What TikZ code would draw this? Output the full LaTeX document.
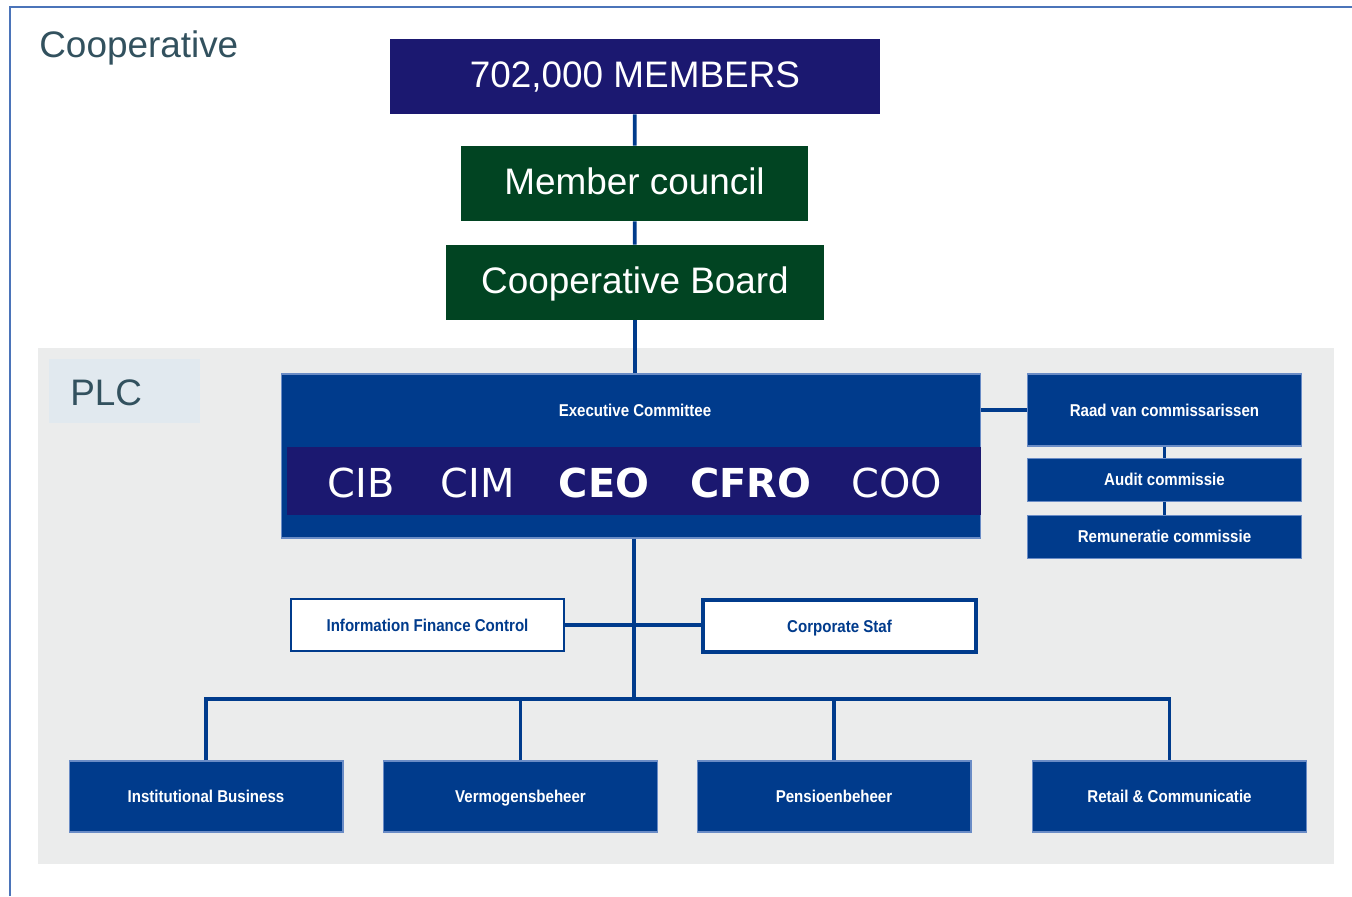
\documentclass[tikz,border=0pt]{standalone}
\usepackage{fontspec}
\setmainfont{Liberation Sans}
\newfontfamily\rolefont{DejaVu Sans}
\newfontfamily\dinfont[FakeStretch=0.88]{Liberation Sans}
\usetikzlibrary{positioning}

\definecolor{navy}{HTML}{1B1870}
\definecolor{forest}{HTML}{014422}
\definecolor{abpblue}{HTML}{003B8C}
\definecolor{edgeblue}{HTML}{6A8CC6}
\definecolor{framecol}{HTML}{4B74B9}
\definecolor{slate}{HTML}{32515E}
\definecolor{plcgray}{HTML}{EBECEC}
\definecolor{plctag}{HTML}{E1E9EF}

\begin{document}
\begin{tikzpicture}[x=0.02cm, y=-0.02cm,
    bigbox/.style={text=white, font=\fontsize{21}{25}\selectfont, inner sep=0pt, text height=15pt, text depth=2pt, minimum height=1.5cm},
    smalltext/.style={font=\dinfont\bfseries\fontsize{9.75}{12}\selectfont, inner sep=0pt, text height=7pt, text depth=0pt},
    unitbox/.style={smalltext, fill=abpblue, draw=edgeblue, line width=0.6pt, text=white, minimum width=5.48cm},
    staffbox/.style={smalltext, fill=white, draw=abpblue, text=abpblue, minimum width=5.46cm},
    role/.style={text=white, font=\rolefont\fontsize{22.7}{26}\selectfont, inner sep=0pt},
    link/.style={draw=abpblue, line width=2.1pt}]
  \useasboundingbox (0,0) rectangle (1352,896);

  % cooperative frame and PLC area
  \fill[plcgray] (38,348) rectangle (1334,864);
  \fill[plctag] (49,359) rectangle (200,423);
  \draw[framecol, line width=1.7pt] (10,896) -- (10,7) -- (1352,7);
  \node[anchor=base west, text=slate, font=\fontsize{21}{25}\selectfont, inner sep=0pt] (coop) at (39,57.5) {Cooperative};
  \node[anchor=base west, text=slate, font=\fontsize{21}{25}\selectfont, inner sep=0pt] (plc) at (70,405) {PLC};

  % member chain
  \node[bigbox, fill=navy, minimum width=9.8cm] (members) at (635,76.5) {702,000 MEMBERS};
  \node[bigbox, fill=forest, minimum width=6.94cm] (council) at (634.5,183.5) {Member council};
  \node[bigbox, fill=forest, minimum width=7.56cm] (board) at (635,282.5) {Cooperative Board};

  % executive committee
  \node[fill=abpblue, draw=edgeblue, line width=0.6pt, minimum width=14cm, minimum height=3.28cm] (exec) at (631,456) {};
  \node[smalltext, text=white] (title) at (635,410) {Executive Committee};
  \node[fill=navy, inner sep=0pt, minimum width=13.88cm, minimum height=1.36cm] (band) at (634,481) {};
  \node[role] (cib) at (361,483) {CIB};
  \node[role] (cim) at (478,483) {CIM};
  \node[role, font=\rolefont\bfseries\fontsize{22.7}{26}\selectfont] (ceo) at (604,483) {CEO};
  \node[role, font=\rolefont\bfseries\fontsize{22.7}{26}\selectfont] (cfro) at (751,483) {CFRO};
  \node[role] (coo) at (897,483) {COO};

  % supervisory boards
  \node[unitbox, minimum height=1.44cm] (raad) at (1164.5,410) {Raad van commissarissen};
  \node[unitbox, minimum height=0.86cm] (audit) [below=0.22cm of raad] {Audit commissie};
  \node[unitbox, minimum height=0.86cm] (remu) [below=0.26cm of audit] {Remuneratie commissie};

  % staff
  \node[staffbox, line width=0.9pt, minimum height=1.04cm] (ifc) at (427.5,625) {Information Finance Control};
  \node[staffbox, line width=2pt, minimum height=1.04cm] (staf) at (839.5,626) {Corporate Staf};

  % business units
  \node[unitbox, minimum height=1.42cm] (inst) at (206,796.5) {Institutional Business};
  \node[unitbox, minimum height=1.42cm] (verm) at (520.5,796.5) {Vermogensbeheer};
  \node[unitbox, minimum height=1.42cm] (pens) at (834,796.5) {Pensioenbeheer};
  \node[unitbox, minimum height=1.42cm] (retail) at (1169.5,796.5) {Retail \& Communicatie};

  \coordinate (bus) at (634,699);

  \draw[link] (members) -- (council);
  \draw[link] (council) -- (board);
  \draw[link] (board) -- (board |- exec.north);
  \draw[link] (exec.east |- raad) -- (raad);
  \draw[link] (raad) -- (audit);
  \draw[link] (audit) -- (remu);
  \draw[link] (exec.south -| bus) -- (bus);
  \draw[link] (ifc) -- (ifc -| staf.west);
  \draw[link] (inst) |- (bus) -| (retail);
  \draw[link] (verm) -- (verm |- bus);
  \draw[link] (pens) -- (pens |- bus);
\end{tikzpicture}
\end{document}
